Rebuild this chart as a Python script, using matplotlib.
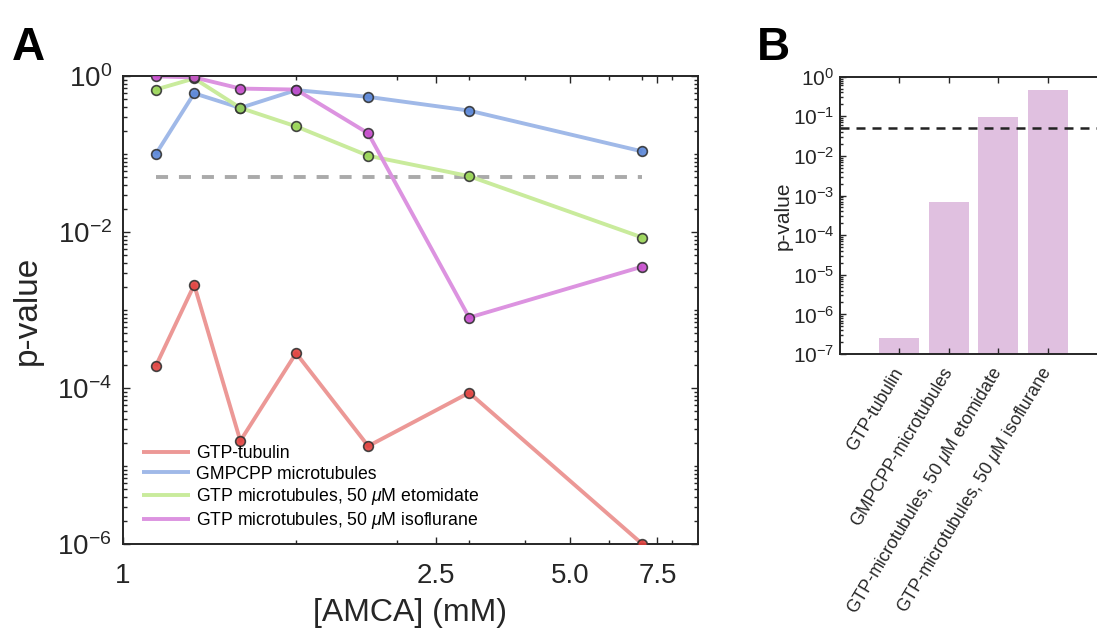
import numpy as np
import matplotlib
matplotlib.use("Agg")
import matplotlib.pyplot as plt
import matplotlib.transforms as mtransforms
from matplotlib.ticker import FixedLocator, LogLocator, NullFormatter, LogFormatterSciNotation

plt.rcParams['font.family'] = ['Liberation Sans', 'DejaVu Sans']
plt.rcParams['mathtext.fontset'] = 'custom'
plt.rcParams['mathtext.rm'] = 'Liberation Sans'
plt.rcParams['mathtext.it'] = 'Liberation Sans:italic'
plt.rcParams['mathtext.bf'] = 'Liberation Sans:bold'

# ---- Panel A data: p-value vs AMCA concentration ----
amca_mM = [1.14, 1.33, 1.6, 2.0, 2.67, 4.0, 8.0]
p_gtp_tubulin = [1.9e-4, 2.1e-3, 2.1e-5, 2.8e-4, 1.8e-5, 8.7e-5, 1.0e-6]
p_gmpcpp = [0.099, 0.60, 0.39, 0.66, 0.54, 0.36, 0.108]
p_etomidate = [0.67, 0.93, 0.39, 0.226, 0.095, 0.052, 0.0085]
p_isoflurane = [0.99, 0.96, 0.69, 0.67, 0.184, 8.0e-4, 3.6e-3]
alpha_level = 0.05

series_labels = ['GTP-tubulin', 'GMPCPP microtubules',
                 r'GTP microtubules, 50 $\mu$M etomidate',
                 r'GTP microtubules, 50 $\mu$M isoflurane']
x_tick_pos = [1, 3.5, 6, 8.5]
x_tick_labels = ['1', '2.5', '5.0', '7.5']

# ---- Panel B data ----
bar_labels = ['GTP-tubulin', 'GMPCPP-microtubules',
              r'GTP-microtubules, 50 $\mu$M etomidate',
              r'GTP-microtubules, 50 $\mu$M isoflurane']
bar_p = [2.6e-7, 6.9e-4, 0.094, 0.46]

line_colors = ['#ec9896', '#a0b9e8', '#c9eb9c', '#dc93e0']
marker_colors = ['#e0413e', '#5a86d8', '#98d454', '#c54bcb']
bar_color = '#e0c0e0'
ink = '#262626'

fig = plt.figure(figsize=(10.97, 6.35), dpi=100)

# ================= Panel A =================
axA = fig.add_axes([0.1121, 0.1433, 0.5242, 0.737])
all_series = [p_gtp_tubulin, p_gmpcpp, p_etomidate, p_isoflurane]
for vals, lab, lc in zip(all_series, series_labels, line_colors):
    axA.plot(amca_mM, vals, color=lc, lw=2.8, label=lab, zorder=2,
             solid_capstyle='butt')
for vals, mc in zip(all_series, marker_colors):
    axA.plot(amca_mM, vals, ls='none', marker='o', ms=7, mfc=mc,
             mec='#333333', mew=1.2, alpha=0.9, zorder=3)
axA.plot([amca_mM[0], amca_mM[-1]], [alpha_level, alpha_level],
         color='#aaaaaa', lw=2.8, dashes=(3.1, 2.8), zorder=1)

axA.set_xscale('log')
axA.set_yscale('log')
axA.set_xlim(1, 10)
axA.set_ylim(1e-6, 1)
axA.xaxis.set_major_locator(FixedLocator(x_tick_pos))
axA.set_xticklabels(x_tick_labels)
axA.xaxis.set_minor_locator(FixedLocator([2, 3, 4, 5, 6, 7, 8, 9]))
axA.xaxis.set_minor_formatter(NullFormatter())
axA.yaxis.set_major_locator(FixedLocator([1e-6, 1e-4, 1e-2, 1]))
axA.yaxis.set_major_formatter(LogFormatterSciNotation())
axA.yaxis.set_minor_locator(LogLocator(base=10, subs=np.arange(1, 10), numticks=50))
axA.yaxis.set_minor_formatter(NullFormatter())
axA.tick_params(which='both', direction='in', top=True, right=True,
                colors=ink, width=1.0)
axA.tick_params(which='major', length=5, labelsize=20)
axA.tick_params(axis='x', which='major', pad=14)
axA.tick_params(axis='y', which='major', pad=8)
axA.tick_params(which='minor', length=3)
for s in axA.spines.values():
    s.set_linewidth(1.4)
    s.set_color(ink)
axA.set_xlabel('[AMCA] (mM)', fontsize=23, color=ink, labelpad=6)
axA.set_ylabel('p-value', fontsize=24, color=ink, labelpad=10)
axA.legend(loc='lower left', bbox_to_anchor=(0.033, 0.028), frameon=False,
           fontsize=12.7, handlelength=2.7, handletextpad=0.35,
           labelspacing=0.18, borderpad=0, borderaxespad=0)

# ================= Panel B =================
axB = fig.add_axes([0.7657, 0.4425, 0.2434, 0.4367])
xpos = np.arange(len(bar_p))
axB.bar(xpos, bar_p, width=0.8, color=bar_color, zorder=1)
axB.axhline(alpha_level, color='#222222', lw=1.8, dashes=(3.6, 2.8), zorder=2)
axB.set_yscale('log')
axB.set_ylim(1e-7, 1)
axB.set_xlim(-1.19, len(bar_p) - 1 + 1.19)
axB.set_xticks(xpos)
axB.set_xticklabels(bar_labels, rotation=59, ha='right', va='center',
                    rotation_mode='anchor', fontsize=12.7)
shift = mtransforms.ScaledTranslation(19 / 100, 0, fig.dpi_scale_trans)
for lbl in axB.get_xticklabels():
    lbl.set_transform(lbl.get_transform() + shift)
axB.yaxis.set_major_locator(FixedLocator([10.0 ** k for k in range(-7, 1)]))
axB.yaxis.set_major_formatter(LogFormatterSciNotation())
axB.yaxis.set_minor_locator(LogLocator(base=10, subs=np.arange(2, 10), numticks=50))
axB.yaxis.set_minor_formatter(NullFormatter())
axB.tick_params(which='both', direction='in', top=True, right=True,
                colors=ink, width=1.0)
axB.tick_params(axis='y', which='major', length=4, labelsize=15, pad=4)
axB.tick_params(axis='x', which='major', length=4, pad=11)
axB.tick_params(which='minor', length=2.5)
for s in axB.spines.values():
    s.set_linewidth(1.4)
    s.set_color(ink)
axB.set_ylabel('p-value', fontsize=15, color=ink, labelpad=0)

# Panel letters
fig.text(0.011, 0.9055, 'A', fontsize=33, fontweight='bold', color='black')
fig.text(0.690, 0.9055, 'B', fontsize=33, fontweight='bold', color='black')

fig.savefig('out.png', dpi=100)
